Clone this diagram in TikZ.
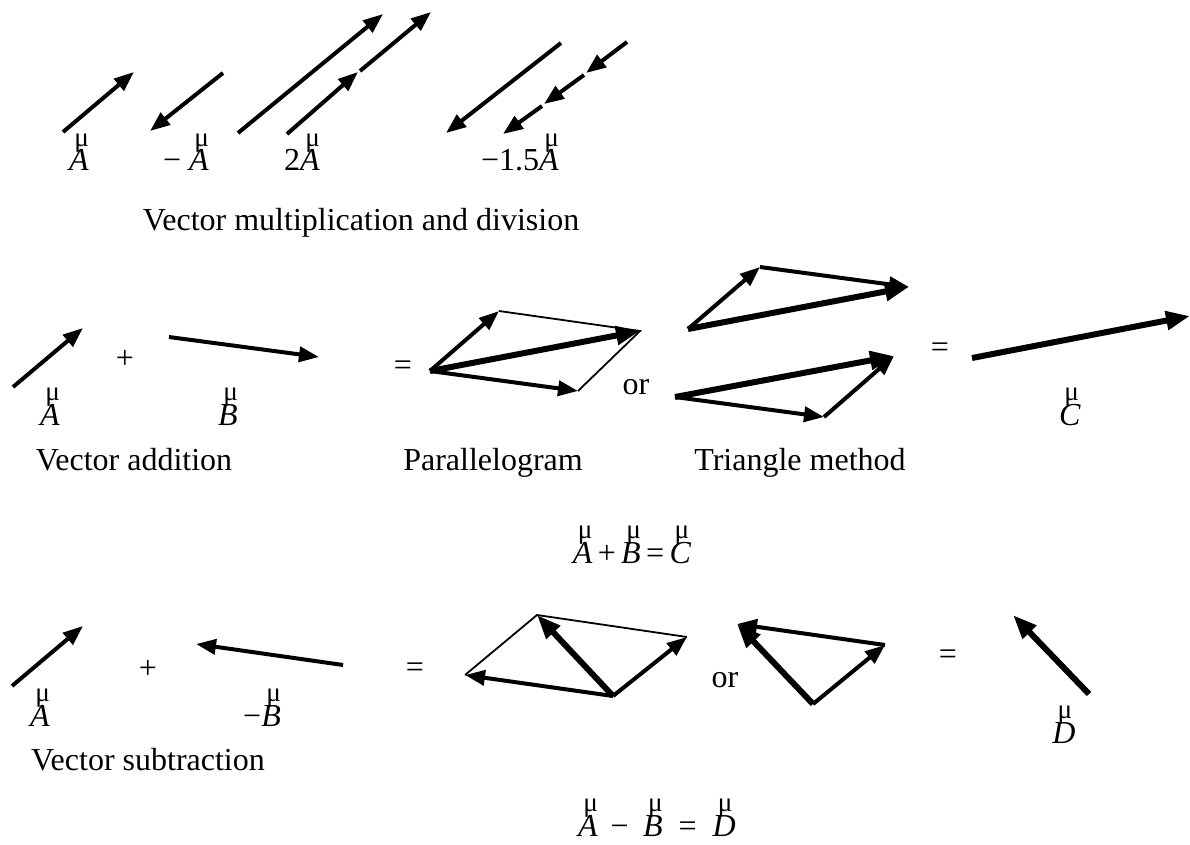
\documentclass[tikz,border=0pt]{standalone}
\usepackage{fontspec}
\setmainfont{Liberation Serif}
\usetikzlibrary{arrows.meta}
\newcommand\vv[1]{\makebox[0pt][l]{\hspace{0.16em}\raisebox{0.78em}{\scalebox{0.85}{μ}}}\textit{#1}}
\tikzset{
 vecarrow/.style={line width=4pt, -{Triangle[length=20pt,width=15pt]}},
 thinline/.style={line width=1.8pt},
 bigarrow/.style={line width=6pt, -{Triangle[length=24pt,width=18pt]}},
 lbl/.style={inner sep=0pt, anchor=base, font=\fontsize{32}{38}\selectfont},
 sym/.style={inner sep=0pt, font=\fontsize{32}{38}\selectfont},
}
\begin{document}
\begin{tikzpicture}[x=1pt,y=-1pt]
\useasboundingbox (0,0) rectangle (1190,845);
% ---------- Row 1 ----------
\coordinate (a1s) at (63,132); \coordinate (a1e) at (134,72);
\coordinate (m1s) at (223,73); \coordinate (m1e) at (150,131);
\coordinate (d1s) at (238,133); \coordinate (d1e) at (383,14);
\coordinate (d2s) at (287,134); \coordinate (d2m) at (358,72); \coordinate (d2n) at (360,71); \coordinate (d2e) at (431,12);
\coordinate (f1s) at (561,43); \coordinate (f1e) at (446,133);
\coordinate (f2s) at (627,42); \coordinate (f2a) at (586,73); \coordinate (f2b) at (584,75);
\coordinate (f2c) at (544,104); \coordinate (f2d) at (542,106); \coordinate (f2e) at (503,134);
\draw[vecarrow] (a1s) -- (a1e);
\draw[vecarrow] (m1s) -- (m1e);
\draw[vecarrow] (d1s) -- (d1e);
\draw[vecarrow] (d2s) -- (d2m);
\draw[vecarrow] (d2n) -- (d2e);
\draw[vecarrow] (f1s) -- (f1e);
\draw[vecarrow] (f2s) -- (f2a);
\draw[vecarrow] (f2b) -- (f2c);
\draw[vecarrow] (f2d) -- (f2e);
\node[lbl] (l1a) at (79,171) {\vv{A}};
\node[lbl] (l1b) at (186,171) {− \vv{A}};
\node[lbl] (l1c) at (302,171) {2\vv{A}};
\node[lbl] (l1d) at (520,171) {−1.5\vv{A}};
\node[lbl] (cap1) at (361,230) {Vector multiplication and division};
% ---------- Row 2 ----------
\coordinate (a2s) at (13,387); \coordinate (a2e) at (83,328);
\coordinate (b2s) at (169,337); \coordinate (b2e) at (319,357);
\draw[vecarrow] (a2s) -- (a2e);
\draw[vecarrow] (b2s) -- (b2e);
\node[sym] (plus2) at (125,359) {+};
\node[lbl] (l2a) at (50,425) {\vv{A}};
\node[lbl] (l2b) at (228,425) {\vv{B}};
\node[sym] (eq2a) at (403,368) {=};
% parallelogram
\coordinate (O) at (430,371); \coordinate (P1) at (499,311); \coordinate (P2) at (578,391); \coordinate (Q) at (640,331);
\draw[thinline] (P1) -- (Q) -- (P2);
\draw[vecarrow] (O) -- (P1);
\draw[vecarrow] (O) -- (P2);
\draw[bigarrow] (O) -- (Q);
\node[sym] (or2) at (636,387) {or};
% triangle top
\coordinate (S1) at (688,329); \coordinate (V1) at (760,267); \coordinate (E1) at (909,287);
\draw[vecarrow] (S1) -- (V1);
\draw[vecarrow] (V1) -- (E1);
\draw[bigarrow] (S1) -- (E1);
% triangle bottom
\coordinate (S2) at (675,397); \coordinate (V2) at (824,417); \coordinate (E2) at (894,356);
\draw[vecarrow] (S2) -- (V2);
\draw[vecarrow] (V2) -- (E2);
\draw[bigarrow] (S2) -- (E2);
\node[sym] (eq2b) at (940,350) {=};
\coordinate (c2s) at (972,358); \coordinate (c2e) at (1190,316);
\draw[bigarrow] (c2s) -- (c2e);
\node[lbl] (l2c) at (1070,425) {\vv{C}};
\node[lbl] (cap2a) at (134,470) {Vector addition};
\node[lbl] (cap2b) at (493,470) {Parallelogram};
\node[lbl] (cap2c) at (800,470) {Triangle method};
\node[lbl] (eqn2) at (632,563) {\vv{A}\,+\,\vv{B}\,=\,\vv{C}};
% ---------- Row 3 ----------
\coordinate (a3s) at (12,686); \coordinate (a3e) at (83,626);
\coordinate (b3s) at (343,665); \coordinate (b3e) at (196,644);
\draw[vecarrow] (a3s) -- (a3e);
\draw[vecarrow] (b3s) -- (b3e);
\node[sym] (plus3) at (148,669) {+};
\node[lbl] (l3a) at (40,726) {\vv{A}};
\node[lbl] (l3b) at (262,726) {−\vv{B}};
\node[sym] (eq3a) at (415,670) {=};
\coordinate (M) at (613,696); \coordinate (R) at (687,637); \coordinate (L) at (465,675); \coordinate (T) at (537,615);
\draw[thinline] (L) -- (T) -- (R);
\draw[vecarrow] (M) -- (R);
\draw[vecarrow] (M) -- (L);
\draw[bigarrow] (M) -- (T);
\node[sym] (or3) at (725,680) {or};
\coordinate (M2) at (813,704); \coordinate (R2) at (885,645); \coordinate (T2) at (737,624);
\draw[vecarrow] (M2) -- (R2);
\draw[vecarrow] (R2) -- (T2);
\draw[bigarrow] (M2) -- (T2);
\node[sym] (eq3b) at (948,657) {=};
\coordinate (d3s) at (1089,694); \coordinate (d3e) at (1013,615);
\draw[bigarrow] (d3s) -- (d3e);
\node[lbl] (l3d) at (1064,743) {\vv{D}};
\node[lbl] (cap3) at (148,770) {Vector subtraction};
\node[lbl] (eqn3) at (657,836) {\vv{A}\hspace{0.4em}−\hspace{0.45em}\vv{B}\hspace{0.5em}=\hspace{0.5em}\vv{D}};
\end{tikzpicture}
\end{document}
